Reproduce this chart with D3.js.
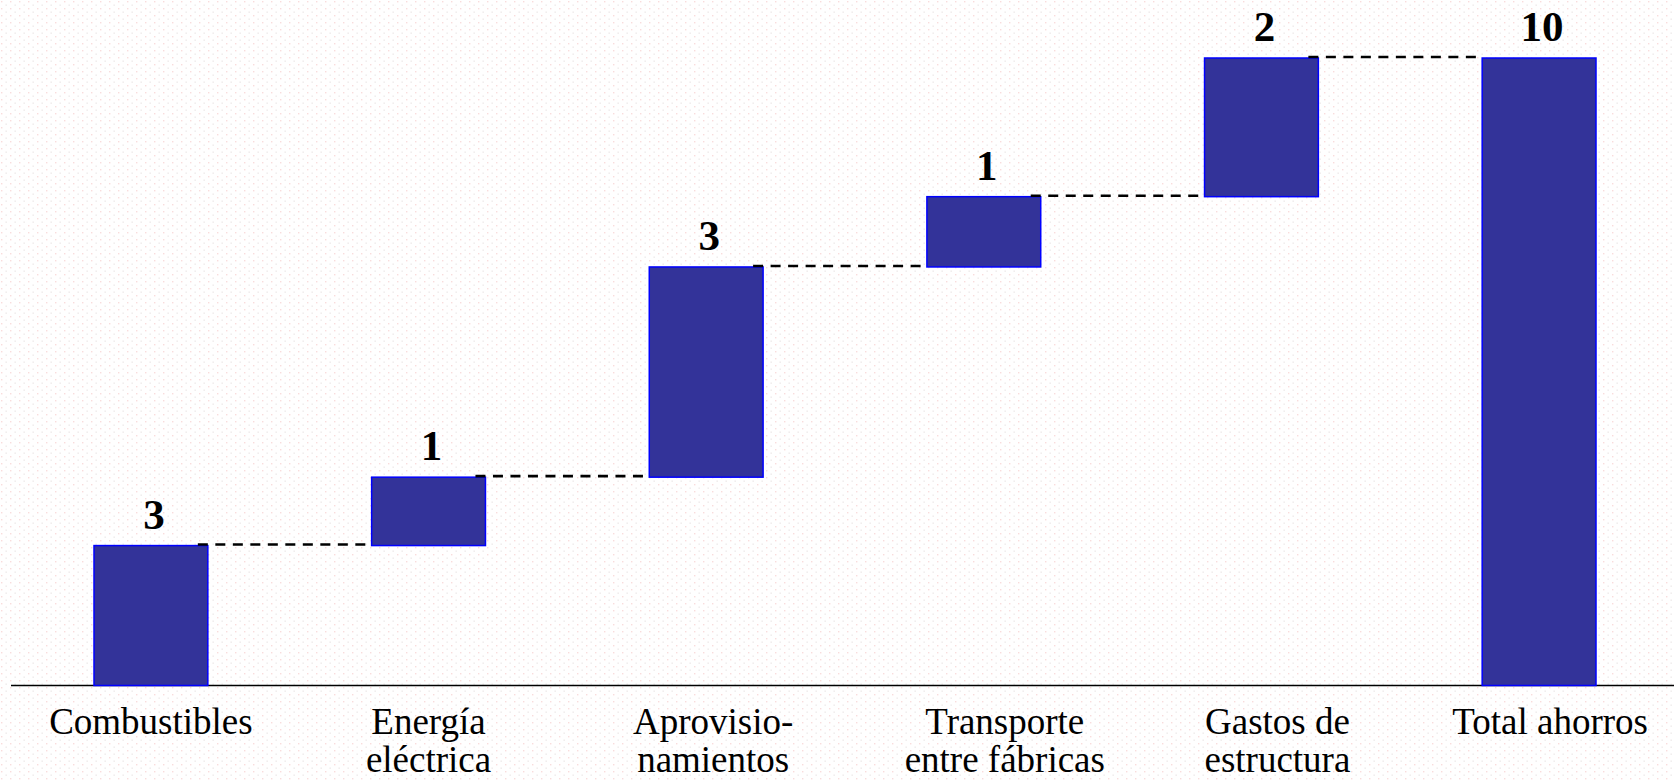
<!DOCTYPE html>
<html>
<head>
<meta charset="utf-8">
<script src="https://cdn.jsdelivr.net/npm/d3@7"></script>
<style>
  html, body { margin: 0; padding: 0; background: #ffffff; }
  svg { display: block; }
</style>
</head>
<body>
<script>
// ---- Data ----
const categories = ["Combustibles", "Energía eléctrica", "Aprovisio-namientos", "Transporte entre fábricas", "Gastos de estructura", "Total ahorros"];
const categoryLines = [["Combustibles"], ["Energía", "eléctrica"], ["Aprovisio-", "namientos"], ["Transporte", "entre fábricas"], ["Gastos de", "estructura"], ["Total ahorros"]];
const stepValues = [2.23, 1.09, 3.35, 1.12, 2.21];
const totalValue = 10.0;
const valueLabels = ["3", "1", "3", "1", "2", "10"];

// ---- Layout ----
const W = 1674, H = 781;
const baseY = 685.5, topY = 58;
const labelNudge = [0, 0, 7, 21, 16, 11]; // hand-placed category text offsets

const svg = d3.select("body").append("svg")
  .attr("width", W).attr("height", H);

// background texture
const defs = svg.append("defs");
const pat = defs.append("pattern").attr("id", "bgdots")
  .attr("width", 9).attr("height", 7).attr("patternUnits", "userSpaceOnUse");
pat.append("rect").attr("width", 9).attr("height", 7).attr("fill", "#ffffff");
pat.append("rect").attr("x", 1).attr("y", 1).attr("width", 1.4).attr("height", 1.4).attr("fill", "#f9dcdc");
pat.append("rect").attr("x", 5.5).attr("y", 4.5).attr("width", 1.4).attr("height", 1.4).attr("fill", "#eeeaea");
svg.append("rect").attr("width", W).attr("height", H).attr("fill", "url(#bgdots)");

const x = d3.scaleBand()
  .domain(categories)
  .range([94, 1596])
  .paddingInner(0.59)
  .paddingOuter(0);

const y = d3.scaleLinear()
  .domain([0, totalValue])
  .range([baseY, topY]);

// build waterfall segments
const segs = [];
let cum = 0;
stepValues.forEach((v, i) => {
  segs.push({ cat: categories[i], start: cum, end: cum + v, label: valueLabels[i] });
  cum += v;
});
segs.push({ cat: categories[5], start: 0, end: totalValue, label: valueLabels[5] });

const bw = x.bandwidth();

// axis line
svg.append("line")
  .attr("x1", 11).attr("x2", W)
  .attr("y1", y(0)).attr("y2", y(0))
  .attr("stroke", "#000").attr("stroke-width", 1.6);

// bars
svg.append("g").selectAll("rect").data(segs).join("rect")
  .attr("x", d => x(d.cat))
  .attr("y", d => y(d.end))
  .attr("width", bw)
  .attr("height", d => y(d.start) - y(d.end))
  .attr("fill", "#333399")
  .attr("stroke", "#0000ff")
  .attr("stroke-width", 1.5);

// connectors
const conns = segs.slice(0, -1).map((d, i) => ({ from: d, to: segs[i + 1], level: d.end }));
svg.append("g").selectAll("line").data(conns).join("line")
  .attr("x1", d => x(d.from.cat) + bw - 10)
  .attr("x2", d => x(d.to.cat))
  .attr("y1", d => y(d.level) - 1)
  .attr("y2", d => y(d.level) - 1)
  .attr("stroke", "#000")
  .attr("stroke-width", 2.6)
  .attr("stroke-dasharray", "10,7.5");

// value labels
svg.append("g").selectAll("text").data(segs).join("text")
  .attr("x", d => x(d.cat) + bw / 2 + 3)
  .attr("y", d => y(d.end) - 17)
  .attr("text-anchor", "middle")
  .attr("font-family", "'Liberation Serif', 'Times New Roman', serif")
  .attr("font-weight", "bold")
  .attr("font-size", 43)
  .attr("fill", "#000")
  .text(d => d.label);

// category labels
const lab = svg.append("g").selectAll("text").data(categories).join("text")
  .attr("y", 734)
  .attr("text-anchor", "middle")
  .attr("font-family", "'Liberation Serif', 'Times New Roman', serif")
  .attr("font-size", 37)
  .attr("fill", "#000");
lab.each(function(d, i) {
  const t = d3.select(this);
  categoryLines[i].forEach((ln, j) => {
    t.append("tspan")
      .attr("x", x(d) + bw / 2 + labelNudge[i])
      .attr("dy", j === 0 ? 0 : 38)
      .text(ln);
  });
});
</script>
</body>
</html>
